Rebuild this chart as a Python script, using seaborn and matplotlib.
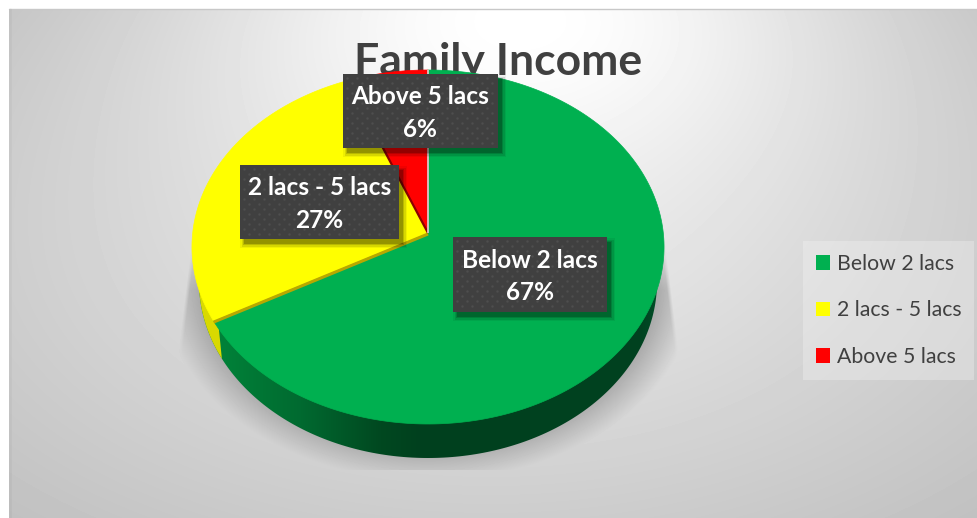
import numpy as np
import matplotlib
matplotlib.use('Agg')
import matplotlib.pyplot as plt
from matplotlib.patches import Patch, Polygon, Rectangle
import seaborn as sns

# chart data
categories = ['Below 2 lacs', '2 lacs - 5 lacs', 'Above 5 lacs']
shares = [67, 27, 6]
slice_colors = ['#00B050', '#FFFF00', '#FF0000']
title_text = 'Family Income'

sns.set_style('white')
plt.rcParams['font.family'] = ['Lato', 'DejaVu Sans']
palette = sns.color_palette(slice_colors)

W, H = 977, 518
fig = plt.figure(figsize=(W / 100, H / 100), dpi=100, facecolor='white')
ax = fig.add_axes([0, 0, 1, 1])


# pie in perspective: unit circle -> pixel position
def project(x, y):
    d = 1 + 0.0791 * y
    return 428 + 235.3 * x / d, (233 - 157.46 * y) / d


# background with radial fade and the pie's soft shadow
yy, xx = np.mgrid[9:H, 9:W]
r = np.sqrt(((xx - 490) / 490.0) ** 2 + ((yy - 260) / 260.0) ** 2) / np.sqrt(2)
bg = 228 - 36 * r ** 1.2
glow = np.exp(-((xx - 520) / 320.0) ** 2 - ((yy - 20) / 200.0) ** 2)
bg = bg + (255 - bg) * glow
edge = np.sqrt(((xx - 428) / 268.0) ** 2 + ((yy - 282) / 198.0) ** 2)
shade = np.clip((1.0 - edge) / 0.14, 0, 1)
fan = np.clip((xx - (192 - (yy - 235) * 14 / 115)) / 4.0, 0, 1) * \
    np.clip(((664 + (yy - 235) * 14 / 115) - xx) / 4.0, 0, 1)
shade = shade * fan * (yy > 235) * (yy < 470)
shade = shade * np.clip((yy - 235) / 55.0, 0, 1)
bg = bg * (1 - shade) + 172 * shade
ax.imshow(bg, cmap='gray', vmin=0, vmax=255, extent=(9, W, H, 9),
          aspect='auto', zorder=0, interpolation='bilinear')
ax.plot([9, W], [8.5, 8.5], color='#c8c8c8', lw=1, zorder=1)
ax.plot([10, 10], [9, H], color='black', alpha=0.03, lw=2, zorder=1)

# title sits behind the pie
ax.text(498, 75, title_text, fontsize=32, fontweight='bold', color='#404040',
        ha='center', va='baseline', zorder=2)

# side wall of the disc
t = np.linspace(0, 2 * np.pi, 361)
wall_x = 428 + 229 * np.cos(t)
wall_y = 282 + 176 * np.sin(t)
wall = Polygon(np.column_stack([wall_x, wall_y]), closed=True, fc='none', ec='none')
ax.add_patch(wall)
stops_x = [199, 225, 300, 380, 420, 640, 660]
stops_r = [0, 0, 0, 0, 0, 0, 0]
stops_g = [128, 128, 106, 72, 64, 66, 80]
stops_b = [56, 56, 48, 32, 30, 32, 40]
gx = np.arange(199, 658)
grad = np.stack([np.interp(gx, stops_x, stops_r),
                 np.interp(gx, stops_x, stops_g),
                 np.interp(gx, stops_x, stops_b)], axis=-1)[None, :, :] / 255
side = ax.imshow(grad, extent=(199, 658, 460, 240), aspect='auto', zorder=3)
side.set_clip_path(wall)
yellow_side = Polygon([(190, 260), (218, 320), (222, 360), (190, 360)], closed=True,
                      fc='#d9d900', ec='none', zorder=3.5)
ax.add_patch(yellow_side)
yellow_side.set_clip_path(wall)

# top surface, clockwise from 12 o'clock
start = 0.0
wedge_edges = []
for share, color in zip(shares, palette):
    stop = start + share / sum(shares) * 2 * np.pi
    a = np.linspace(start, stop, 240)
    px, py = project(np.sin(a), np.cos(a))
    pts = [project(0, 0)] + list(zip(px, py))
    ax.add_patch(Polygon(pts, closed=True, fc=color, ec=color, lw=0.5, zorder=4))
    wedge_edges.append((px[-1], py[-1]))
    start = stop

# bevel lines along the slice edges
cx, cy = project(0, 0)
ax.plot([cx, wedge_edges[0][0]], [cy + 1, wedge_edges[0][1] + 1], color='#b8a800', lw=2.2,
        zorder=5, solid_capstyle='butt')
ax.plot([cx, wedge_edges[1][0]], [cy, wedge_edges[1][1]], color='#8c0000', lw=1.6,
        zorder=5, solid_capstyle='butt')
ax.plot([cx, wedge_edges[2][0]], [cy, wedge_edges[2][1]], color='#d8d8d8', lw=1.2,
        zorder=5, solid_capstyle='butt')

# data labels
boxes = [(453, 237, 154, 75), (240, 165, 159, 74), (343, 74, 155, 74)]
for (x0, y0, bw, bh), name, share in zip(boxes, categories, shares):
    for grow, alpha in zip([4, 2.5, 1, 0], [0.06, 0.1, 0.14, 0.2]):
        ax.add_patch(Rectangle((x0 + 4 - grow, y0 + 5 - grow), bw + 2 * grow, bh + 2 * grow,
                               fc='black', ec='none', alpha=alpha, zorder=6))
    ax.add_patch(Rectangle((x0, y0), bw, bh, fc='#404040', ec='none', zorder=7))
    dx, dy = np.meshgrid(np.arange(x0 + 4, x0 + bw - 1, 10), np.arange(y0 + 4, y0 + bh - 1, 10))
    ax.scatter(dx.ravel(), dy.ravel(), s=3, color='#4e4e4e', lw=0, zorder=7.5)
    dx, dy = np.meshgrid(np.arange(x0 + 9, x0 + bw - 1, 10), np.arange(y0 + 9, y0 + bh - 1, 10))
    ax.scatter(dx.ravel(), dy.ravel(), s=3, color='#4e4e4e', lw=0, zorder=7.5)
    ax.text(x0 + bw / 2, y0 + bh / 2 + 2, f'{name}\n{share}%', color='white', fontsize=17.6,
            fontweight='bold', ha='center', va='center', linespacing=1.48, zorder=8)

# legend
handles = [Patch(fc=c, ec='none', label=n) for c, n in zip(palette, categories)]
leg = ax.legend(handles=handles, loc='upper left', bbox_to_anchor=(803 / W, 1 - 241 / H),
                bbox_transform=fig.transFigure, frameon=True, fancybox=False, framealpha=0.35,
                facecolor='#f4f4f4', edgecolor='none', fontsize=15.3, labelcolor='#404040',
                handlelength=0.68, handleheight=0.68, handletextpad=0.3, labelspacing=1.25,
                borderaxespad=0, borderpad=0.6)
leg.set_zorder(9)

ax.set_xlim(0, W)
ax.set_ylim(H, 0)
ax.axis('off')
fig.savefig('out.png', dpi=100)
